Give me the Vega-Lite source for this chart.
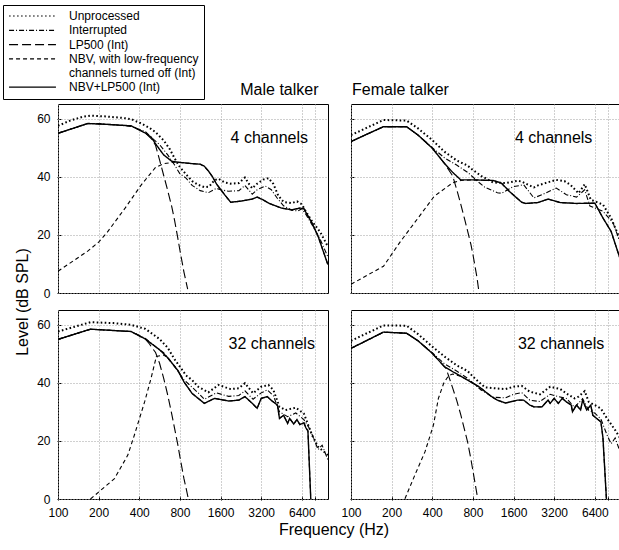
{
"$schema":"https://vega.github.io/schema/vega-lite/v6.json",
"padding":{"left":2,"top":4,"right":2,"bottom":2},
"config":{"font":"Liberation Sans","view":{"stroke":"black","strokeWidth":1},
"axis":{"labelColor":"black","labelFontSize":12,"tickColor":"black","domain":false,"grid":true,"gridColor":"#a0a0a0","gridDash":[1,2],"tickSize":-4,"labelPadding":11,"labelOverlap":false},
"title":{"color":"black","fontWeight":"normal","fontSize":16},
"header":{"titleFontWeight":"normal","titleColor":"black"}},
"datasets":{"d":[
{"talker":"Male","ch":4,"note":"4 channels","hz":3675,"db":53.3},
{"talker":"Female","ch":4,"note":"4 channels","hz":3170,"db":53.3},
{"talker":"Male","ch":32,"note":"32 channels","hz":3830,"db":53.4},
{"talker":"Female","ch":32,"note":"32 channels","hz":3600,"db":53.3},
{"talker":"Male","ch":4,"series":"Unprocessed","hz":100,"db":57.5},{"talker":"Male","ch":4,"series":"Unprocessed","hz":123,"db":59.3},{"talker":"Male","ch":4,"series":"Unprocessed","hz":152,"db":60.6},{"talker":"Male","ch":4,"series":"Unprocessed","hz":174,"db":61.0},{"talker":"Male","ch":4,"series":"Unprocessed","hz":230,"db":60.7},{"talker":"Male","ch":4,"series":"Unprocessed","hz":303,"db":60.2},{"talker":"Male","ch":4,"series":"Unprocessed","hz":348,"db":59.8},{"talker":"Male","ch":4,"series":"Unprocessed","hz":414,"db":58.3},{"talker":"Male","ch":4,"series":"Unprocessed","hz":476,"db":56.8},{"talker":"Male","ch":4,"series":"Unprocessed","hz":528,"db":55.3},{"talker":"Male","ch":4,"series":"Unprocessed","hz":606,"db":52.5},{"talker":"Male","ch":4,"series":"Unprocessed","hz":673,"db":49.5},{"talker":"Male","ch":4,"series":"Unprocessed","hz":731,"db":46.3},{"talker":"Male","ch":4,"series":"Unprocessed","hz":800,"db":43.3},{"talker":"Male","ch":4,"series":"Unprocessed","hz":888,"db":40.8},{"talker":"Male","ch":4,"series":"Unprocessed","hz":985,"db":38.5},{"talker":"Male","ch":4,"series":"Unprocessed","hz":1093,"db":37.2},{"talker":"Male","ch":4,"series":"Unprocessed","hz":1213,"db":36.4},{"talker":"Male","ch":4,"series":"Unprocessed","hz":1318,"db":36.6},{"talker":"Male","ch":4,"series":"Unprocessed","hz":1442,"db":38.8},{"talker":"Male","ch":4,"series":"Unprocessed","hz":1546,"db":39.3},{"talker":"Male","ch":4,"series":"Unprocessed","hz":1715,"db":38.0},{"talker":"Male","ch":4,"series":"Unprocessed","hz":1903,"db":37.6},{"talker":"Male","ch":4,"series":"Unprocessed","hz":2186,"db":37.8},{"talker":"Male","ch":4,"series":"Unprocessed","hz":2425,"db":39.7},{"talker":"Male","ch":4,"series":"Unprocessed","hz":2599,"db":37.5},{"talker":"Male","ch":4,"series":"Unprocessed","hz":2747,"db":36.0},{"talker":"Male","ch":4,"series":"Unprocessed","hz":2986,"db":37.6},{"talker":"Male","ch":4,"series":"Unprocessed","hz":3313,"db":39.0},{"talker":"Male","ch":4,"series":"Unprocessed","hz":3625,"db":39.5},{"talker":"Male","ch":4,"series":"Unprocessed","hz":3940,"db":37.5},{"talker":"Male","ch":4,"series":"Unprocessed","hz":4281,"db":33.5},{"talker":"Male","ch":4,"series":"Unprocessed","hz":4685,"db":31.3},{"talker":"Male","ch":4,"series":"Unprocessed","hz":5382,"db":30.9},{"talker":"Male","ch":4,"series":"Unprocessed","hz":5889,"db":31.5},{"talker":"Male","ch":4,"series":"Unprocessed","hz":6400,"db":30.5},{"talker":"Male","ch":4,"series":"Unprocessed","hz":6860,"db":28.0},{"talker":"Male","ch":4,"series":"Unprocessed","hz":7611,"db":24.7},{"talker":"Male","ch":4,"series":"Unprocessed","hz":8742,"db":21.0},{"talker":"Male","ch":4,"series":"Unprocessed","hz":9973,"db":16.0},
{"talker":"Male","ch":4,"series":"Interrupted","hz":100,"db":55.0},{"talker":"Male","ch":4,"series":"Interrupted","hz":166,"db":58.3},{"talker":"Male","ch":4,"series":"Interrupted","hz":200,"db":58.3},{"talker":"Male","ch":4,"series":"Interrupted","hz":264,"db":57.8},{"talker":"Male","ch":4,"series":"Interrupted","hz":348,"db":57.3},{"talker":"Male","ch":4,"series":"Interrupted","hz":444,"db":55.5},{"talker":"Male","ch":4,"series":"Interrupted","hz":492,"db":53.5},{"talker":"Male","ch":4,"series":"Interrupted","hz":566,"db":51.0},{"talker":"Male","ch":4,"series":"Interrupted","hz":650,"db":47.5},{"talker":"Male","ch":4,"series":"Interrupted","hz":731,"db":44.0},{"talker":"Male","ch":4,"series":"Interrupted","hz":800,"db":41.0},{"talker":"Male","ch":4,"series":"Interrupted","hz":888,"db":39.5},{"talker":"Male","ch":4,"series":"Interrupted","hz":985,"db":37.0},{"talker":"Male","ch":4,"series":"Interrupted","hz":1131,"db":35.2},{"talker":"Male","ch":4,"series":"Interrupted","hz":1300,"db":34.5},{"talker":"Male","ch":4,"series":"Interrupted","hz":1493,"db":36.0},{"talker":"Male","ch":4,"series":"Interrupted","hz":1600,"db":35.5},{"talker":"Male","ch":4,"series":"Interrupted","hz":1838,"db":35.0},{"talker":"Male","ch":4,"series":"Interrupted","hz":2186,"db":35.2},{"talker":"Male","ch":4,"series":"Interrupted","hz":2425,"db":37.0},{"talker":"Male","ch":4,"series":"Interrupted","hz":2747,"db":34.0},{"talker":"Male","ch":4,"series":"Interrupted","hz":2986,"db":35.5},{"talker":"Male","ch":4,"series":"Interrupted","hz":3430,"db":36.8},{"talker":"Male","ch":4,"series":"Interrupted","hz":3805,"db":35.5},{"talker":"Male","ch":4,"series":"Interrupted","hz":4222,"db":32.5},{"talker":"Male","ch":4,"series":"Interrupted","hz":4685,"db":30.0},{"talker":"Male","ch":4,"series":"Interrupted","hz":5382,"db":28.5},{"talker":"Male","ch":4,"series":"Interrupted","hz":5972,"db":28.2},{"talker":"Male","ch":4,"series":"Interrupted","hz":6400,"db":29.0},{"talker":"Male","ch":4,"series":"Interrupted","hz":6860,"db":27.0},{"talker":"Male","ch":4,"series":"Interrupted","hz":7611,"db":23.5},{"talker":"Male","ch":4,"series":"Interrupted","hz":8742,"db":18.5},{"talker":"Male","ch":4,"series":"Interrupted","hz":9973,"db":12.5},
{"talker":"Male","ch":4,"series":"NBV+LP500 (Int)","hz":100,"db":54.9},{"talker":"Male","ch":4,"series":"NBV+LP500 (Int)","hz":123,"db":56.3},{"talker":"Male","ch":4,"series":"NBV+LP500 (Int)","hz":166,"db":58.3},{"talker":"Male","ch":4,"series":"NBV+LP500 (Int)","hz":230,"db":58.0},{"talker":"Male","ch":4,"series":"NBV+LP500 (Int)","hz":348,"db":57.5},{"talker":"Male","ch":4,"series":"NBV+LP500 (Int)","hz":444,"db":55.0},{"talker":"Male","ch":4,"series":"NBV+LP500 (Int)","hz":492,"db":53.5},{"talker":"Male","ch":4,"series":"NBV+LP500 (Int)","hz":528,"db":51.3},{"talker":"Male","ch":4,"series":"NBV+LP500 (Int)","hz":606,"db":47.5},{"talker":"Male","ch":4,"series":"NBV+LP500 (Int)","hz":696,"db":45.3},{"talker":"Male","ch":4,"series":"NBV+LP500 (Int)","hz":800,"db":44.9},{"talker":"Male","ch":4,"series":"NBV+LP500 (Int)","hz":985,"db":44.5},{"talker":"Male","ch":4,"series":"NBV+LP500 (Int)","hz":1131,"db":44.3},{"talker":"Male","ch":4,"series":"NBV+LP500 (Int)","hz":1213,"db":43.6},{"talker":"Male","ch":4,"series":"NBV+LP500 (Int)","hz":1300,"db":42.0},{"talker":"Male","ch":4,"series":"NBV+LP500 (Int)","hz":1393,"db":40.0},{"talker":"Male","ch":4,"series":"NBV+LP500 (Int)","hz":1493,"db":37.5},{"talker":"Male","ch":4,"series":"NBV+LP500 (Int)","hz":1715,"db":33.8},{"talker":"Male","ch":4,"series":"NBV+LP500 (Int)","hz":1903,"db":31.2},{"talker":"Male","ch":4,"series":"NBV+LP500 (Int)","hz":2263,"db":31.6},{"talker":"Male","ch":4,"series":"NBV+LP500 (Int)","hz":2747,"db":32.3},{"talker":"Male","ch":4,"series":"NBV+LP500 (Int)","hz":2986,"db":33.0},{"talker":"Male","ch":4,"series":"NBV+LP500 (Int)","hz":3313,"db":32.0},{"talker":"Male","ch":4,"series":"NBV+LP500 (Int)","hz":3676,"db":30.8},{"talker":"Male","ch":4,"series":"NBV+LP500 (Int)","hz":4525,"db":29.2},{"talker":"Male","ch":4,"series":"NBV+LP500 (Int)","hz":5382,"db":28.6},{"talker":"Male","ch":4,"series":"NBV+LP500 (Int)","hz":6183,"db":29.2},{"talker":"Male","ch":4,"series":"NBV+LP500 (Int)","hz":6626,"db":29.0},{"talker":"Male","ch":4,"series":"NBV+LP500 (Int)","hz":7101,"db":26.5},{"talker":"Male","ch":4,"series":"NBV+LP500 (Int)","hz":7611,"db":24.1},{"talker":"Male","ch":4,"series":"NBV+LP500 (Int)","hz":8445,"db":19.5},{"talker":"Male","ch":4,"series":"NBV+LP500 (Int)","hz":9973,"db":9.8},
{"talker":"Male","ch":4,"series":"LP500 (Int)","hz":100,"db":54.9},{"talker":"Male","ch":4,"series":"LP500 (Int)","hz":123,"db":56.3},{"talker":"Male","ch":4,"series":"LP500 (Int)","hz":166,"db":58.3},{"talker":"Male","ch":4,"series":"LP500 (Int)","hz":230,"db":58.0},{"talker":"Male","ch":4,"series":"LP500 (Int)","hz":348,"db":57.5},{"talker":"Male","ch":4,"series":"LP500 (Int)","hz":444,"db":55.0},{"talker":"Male","ch":4,"series":"LP500 (Int)","hz":492,"db":53.0},{"talker":"Male","ch":4,"series":"LP500 (Int)","hz":528,"db":50.8},{"talker":"Male","ch":4,"series":"LP500 (Int)","hz":566,"db":45.7},{"talker":"Male","ch":4,"series":"LP500 (Int)","hz":606,"db":40.5},{"talker":"Male","ch":4,"series":"LP500 (Int)","hz":650,"db":35.2},{"talker":"Male","ch":4,"series":"LP500 (Int)","hz":696,"db":29.7},{"talker":"Male","ch":4,"series":"LP500 (Int)","hz":731,"db":24.9},{"talker":"Male","ch":4,"series":"LP500 (Int)","hz":773,"db":18.7},{"talker":"Male","ch":4,"series":"LP500 (Int)","hz":800,"db":14.7},{"talker":"Male","ch":4,"series":"LP500 (Int)","hz":857,"db":7.2},{"talker":"Male","ch":4,"series":"LP500 (Int)","hz":888,"db":3.9},{"talker":"Male","ch":4,"series":"LP500 (Int)","hz":913,"db":1.3},
{"talker":"Male","ch":4,"series":"NBV","hz":100,"db":7.5},{"talker":"Male","ch":4,"series":"NBV","hz":166,"db":14.4},{"talker":"Male","ch":4,"series":"NBV","hz":200,"db":17.5},{"talker":"Male","ch":4,"series":"NBV","hz":230,"db":20.7},{"talker":"Male","ch":4,"series":"NBV","hz":314,"db":29.2},{"talker":"Male","ch":4,"series":"NBV","hz":414,"db":37.2},{"talker":"Male","ch":4,"series":"NBV","hz":528,"db":43.2},{"talker":"Male","ch":4,"series":"NBV","hz":606,"db":44.5},{"talker":"Male","ch":4,"series":"NBV","hz":731,"db":45.0},{"talker":"Male","ch":4,"series":"NBV","hz":800,"db":44.9},{"talker":"Male","ch":4,"series":"NBV","hz":985,"db":44.5},{"talker":"Male","ch":4,"series":"NBV","hz":1131,"db":44.3},{"talker":"Male","ch":4,"series":"NBV","hz":1213,"db":43.6},{"talker":"Male","ch":4,"series":"NBV","hz":1300,"db":42.0},{"talker":"Male","ch":4,"series":"NBV","hz":1393,"db":40.0},{"talker":"Male","ch":4,"series":"NBV","hz":1493,"db":37.5},{"talker":"Male","ch":4,"series":"NBV","hz":1715,"db":33.8},{"talker":"Male","ch":4,"series":"NBV","hz":1903,"db":31.2},{"talker":"Male","ch":4,"series":"NBV","hz":2263,"db":31.6},{"talker":"Male","ch":4,"series":"NBV","hz":2747,"db":32.3},{"talker":"Male","ch":4,"series":"NBV","hz":2986,"db":33.0},{"talker":"Male","ch":4,"series":"NBV","hz":3313,"db":32.0},{"talker":"Male","ch":4,"series":"NBV","hz":3676,"db":30.8},{"talker":"Male","ch":4,"series":"NBV","hz":4525,"db":29.2},{"talker":"Male","ch":4,"series":"NBV","hz":5382,"db":28.6},{"talker":"Male","ch":4,"series":"NBV","hz":6183,"db":29.2},{"talker":"Male","ch":4,"series":"NBV","hz":6626,"db":29.0},{"talker":"Male","ch":4,"series":"NBV","hz":7101,"db":26.5},{"talker":"Male","ch":4,"series":"NBV","hz":7611,"db":24.1},{"talker":"Male","ch":4,"series":"NBV","hz":8445,"db":19.5},{"talker":"Male","ch":4,"series":"NBV","hz":9973,"db":9.8},
{"talker":"Female","ch":4,"series":"Unprocessed","hz":100,"db":54.3},{"talker":"Female","ch":4,"series":"Unprocessed","hz":174,"db":59.5},{"talker":"Female","ch":4,"series":"Unprocessed","hz":258,"db":59.3},{"talker":"Female","ch":4,"series":"Unprocessed","hz":314,"db":56.6},{"talker":"Female","ch":4,"series":"Unprocessed","hz":400,"db":52.6},{"talker":"Female","ch":4,"series":"Unprocessed","hz":492,"db":48.6},{"talker":"Female","ch":4,"series":"Unprocessed","hz":606,"db":45.6},{"talker":"Female","ch":4,"series":"Unprocessed","hz":731,"db":43.8},{"talker":"Female","ch":4,"series":"Unprocessed","hz":800,"db":42.3},{"talker":"Female","ch":4,"series":"Unprocessed","hz":919,"db":40.3},{"talker":"Female","ch":4,"series":"Unprocessed","hz":1131,"db":38.0},{"talker":"Female","ch":4,"series":"Unprocessed","hz":1393,"db":37.8},{"talker":"Female","ch":4,"series":"Unprocessed","hz":1715,"db":38.6},{"talker":"Female","ch":4,"series":"Unprocessed","hz":1838,"db":38.3},{"talker":"Female","ch":4,"series":"Unprocessed","hz":2263,"db":36.3},{"talker":"Female","ch":4,"series":"Unprocessed","hz":2425,"db":37.0},{"talker":"Female","ch":4,"series":"Unprocessed","hz":2747,"db":37.8},{"talker":"Female","ch":4,"series":"Unprocessed","hz":3313,"db":38.9},{"talker":"Female","ch":4,"series":"Unprocessed","hz":3805,"db":38.5},{"talker":"Female","ch":4,"series":"Unprocessed","hz":4222,"db":37.2},{"talker":"Female","ch":4,"series":"Unprocessed","hz":4850,"db":34.3},{"talker":"Female","ch":4,"series":"Unprocessed","hz":5382,"db":37.4},{"talker":"Female","ch":4,"series":"Unprocessed","hz":5972,"db":32.1},{"talker":"Female","ch":4,"series":"Unprocessed","hz":7352,"db":30.4},{"talker":"Female","ch":4,"series":"Unprocessed","hz":8445,"db":25.8},{"talker":"Female","ch":4,"series":"Unprocessed","hz":9973,"db":17.8},
{"talker":"Female","ch":4,"series":"NBV+LP500 (Int)","hz":100,"db":52.1},{"talker":"Female","ch":4,"series":"NBV+LP500 (Int)","hz":174,"db":57.2},{"talker":"Female","ch":4,"series":"NBV+LP500 (Int)","hz":258,"db":57.2},{"talker":"Female","ch":4,"series":"NBV+LP500 (Int)","hz":314,"db":54.3},{"talker":"Female","ch":4,"series":"NBV+LP500 (Int)","hz":400,"db":49.8},{"talker":"Female","ch":4,"series":"NBV+LP500 (Int)","hz":492,"db":44.6},{"talker":"Female","ch":4,"series":"NBV+LP500 (Int)","hz":566,"db":41.5},{"talker":"Female","ch":4,"series":"NBV+LP500 (Int)","hz":650,"db":38.9},{"talker":"Female","ch":4,"series":"NBV+LP500 (Int)","hz":800,"db":38.9},{"talker":"Female","ch":4,"series":"NBV+LP500 (Int)","hz":1131,"db":38.7},{"talker":"Female","ch":4,"series":"NBV+LP500 (Int)","hz":1300,"db":37.8},{"talker":"Female","ch":4,"series":"NBV+LP500 (Int)","hz":1493,"db":34.9},{"talker":"Female","ch":4,"series":"NBV+LP500 (Int)","hz":1838,"db":31.2},{"talker":"Female","ch":4,"series":"NBV+LP500 (Int)","hz":1970,"db":30.8},{"talker":"Female","ch":4,"series":"NBV+LP500 (Int)","hz":2425,"db":31.1},{"talker":"Female","ch":4,"series":"NBV+LP500 (Int)","hz":2884,"db":32.3},{"talker":"Female","ch":4,"series":"NBV+LP500 (Int)","hz":3551,"db":31.1},{"talker":"Female","ch":4,"series":"NBV+LP500 (Int)","hz":4685,"db":30.8},{"talker":"Female","ch":4,"series":"NBV+LP500 (Int)","hz":6400,"db":30.9},{"talker":"Female","ch":4,"series":"NBV+LP500 (Int)","hz":7352,"db":25.8},{"talker":"Female","ch":4,"series":"NBV+LP500 (Int)","hz":8445,"db":21.2},{"talker":"Female","ch":4,"series":"NBV+LP500 (Int)","hz":9973,"db":11.0},
{"talker":"Female","ch":4,"series":"Interrupted","hz":100,"db":52.1},{"talker":"Female","ch":4,"series":"Interrupted","hz":174,"db":57.2},{"talker":"Female","ch":4,"series":"Interrupted","hz":258,"db":57.2},{"talker":"Female","ch":4,"series":"Interrupted","hz":314,"db":54.3},{"talker":"Female","ch":4,"series":"Interrupted","hz":400,"db":50.0},{"talker":"Female","ch":4,"series":"Interrupted","hz":492,"db":46.5},{"talker":"Female","ch":4,"series":"Interrupted","hz":606,"db":44.0},{"talker":"Female","ch":4,"series":"Interrupted","hz":731,"db":41.5},{"talker":"Female","ch":4,"series":"Interrupted","hz":888,"db":38.0},{"talker":"Female","ch":4,"series":"Interrupted","hz":985,"db":36.3},{"talker":"Female","ch":4,"series":"Interrupted","hz":1213,"db":34.5},{"talker":"Female","ch":4,"series":"Interrupted","hz":1300,"db":34.3},{"talker":"Female","ch":4,"series":"Interrupted","hz":1600,"db":36.6},{"talker":"Female","ch":4,"series":"Interrupted","hz":1903,"db":37.2},{"talker":"Female","ch":4,"series":"Interrupted","hz":2263,"db":32.7},{"talker":"Female","ch":4,"series":"Interrupted","hz":2599,"db":33.8},{"talker":"Female","ch":4,"series":"Interrupted","hz":3313,"db":36.1},{"talker":"Female","ch":4,"series":"Interrupted","hz":3940,"db":33.8},{"talker":"Female","ch":4,"series":"Interrupted","hz":4685,"db":33.0},{"talker":"Female","ch":4,"series":"Interrupted","hz":5382,"db":35.5},{"talker":"Female","ch":4,"series":"Interrupted","hz":5889,"db":29.9},{"talker":"Female","ch":4,"series":"Interrupted","hz":7352,"db":28.1},{"talker":"Female","ch":4,"series":"Interrupted","hz":8742,"db":24.1},{"talker":"Female","ch":4,"series":"Interrupted","hz":9973,"db":16.7},
{"talker":"Female","ch":4,"series":"LP500 (Int)","hz":100,"db":52.1},{"talker":"Female","ch":4,"series":"LP500 (Int)","hz":174,"db":57.2},{"talker":"Female","ch":4,"series":"LP500 (Int)","hz":258,"db":57.2},{"talker":"Female","ch":4,"series":"LP500 (Int)","hz":314,"db":54.3},{"talker":"Female","ch":4,"series":"LP500 (Int)","hz":400,"db":49.8},{"talker":"Female","ch":4,"series":"LP500 (Int)","hz":492,"db":44.6},{"talker":"Female","ch":4,"series":"LP500 (Int)","hz":566,"db":40.3},{"talker":"Female","ch":4,"series":"LP500 (Int)","hz":606,"db":35.7},{"talker":"Female","ch":4,"series":"LP500 (Int)","hz":650,"db":30.6},{"talker":"Female","ch":4,"series":"LP500 (Int)","hz":696,"db":25.2},{"talker":"Female","ch":4,"series":"LP500 (Int)","hz":731,"db":21.3},{"talker":"Female","ch":4,"series":"LP500 (Int)","hz":773,"db":16.7},{"talker":"Female","ch":4,"series":"LP500 (Int)","hz":800,"db":13.3},{"talker":"Female","ch":4,"series":"LP500 (Int)","hz":857,"db":5.4},{"talker":"Female","ch":4,"series":"LP500 (Int)","hz":888,"db":0.1},
{"talker":"Female","ch":4,"series":"NBV","hz":100,"db":3.0},{"talker":"Female","ch":4,"series":"NBV","hz":174,"db":9.2},{"talker":"Female","ch":4,"series":"NBV","hz":230,"db":17.4},{"talker":"Female","ch":4,"series":"NBV","hz":314,"db":25.8},{"talker":"Female","ch":4,"series":"NBV","hz":414,"db":33.3},{"talker":"Female","ch":4,"series":"NBV","hz":566,"db":37.9},{"talker":"Female","ch":4,"series":"NBV","hz":650,"db":38.7},{"talker":"Female","ch":4,"series":"NBV","hz":800,"db":38.9},{"talker":"Female","ch":4,"series":"NBV","hz":1131,"db":38.7},{"talker":"Female","ch":4,"series":"NBV","hz":1300,"db":37.8},{"talker":"Female","ch":4,"series":"NBV","hz":1493,"db":34.9},{"talker":"Female","ch":4,"series":"NBV","hz":1838,"db":31.2},{"talker":"Female","ch":4,"series":"NBV","hz":1970,"db":30.8},{"talker":"Female","ch":4,"series":"NBV","hz":2425,"db":31.1},{"talker":"Female","ch":4,"series":"NBV","hz":2884,"db":32.3},{"talker":"Female","ch":4,"series":"NBV","hz":3551,"db":31.1},{"talker":"Female","ch":4,"series":"NBV","hz":4685,"db":30.8},{"talker":"Female","ch":4,"series":"NBV","hz":6400,"db":30.9},{"talker":"Female","ch":4,"series":"NBV","hz":7352,"db":25.8},{"talker":"Female","ch":4,"series":"NBV","hz":8445,"db":21.2},{"talker":"Female","ch":4,"series":"NBV","hz":9973,"db":11.0},
{"talker":"Male","ch":32,"series":"Unprocessed","hz":100,"db":57.6},{"talker":"Male","ch":32,"series":"Unprocessed","hz":174,"db":60.8},{"talker":"Male","ch":32,"series":"Unprocessed","hz":258,"db":60.5},{"talker":"Male","ch":32,"series":"Unprocessed","hz":348,"db":59.9},{"talker":"Male","ch":32,"series":"Unprocessed","hz":444,"db":58.5},{"talker":"Male","ch":32,"series":"Unprocessed","hz":566,"db":55.0},{"talker":"Male","ch":32,"series":"Unprocessed","hz":650,"db":52.0},{"talker":"Male","ch":32,"series":"Unprocessed","hz":731,"db":48.0},{"talker":"Male","ch":32,"series":"Unprocessed","hz":800,"db":45.5},{"talker":"Male","ch":32,"series":"Unprocessed","hz":888,"db":42.5},{"talker":"Male","ch":32,"series":"Unprocessed","hz":985,"db":40.9},{"talker":"Male","ch":32,"series":"Unprocessed","hz":1093,"db":38.6},{"talker":"Male","ch":32,"series":"Unprocessed","hz":1300,"db":36.7},{"talker":"Male","ch":32,"series":"Unprocessed","hz":1546,"db":39.2},{"talker":"Male","ch":32,"series":"Unprocessed","hz":1903,"db":37.8},{"talker":"Male","ch":32,"series":"Unprocessed","hz":2186,"db":38.1},{"talker":"Male","ch":32,"series":"Unprocessed","hz":2425,"db":39.8},{"talker":"Male","ch":32,"series":"Unprocessed","hz":2786,"db":36.4},{"talker":"Male","ch":32,"series":"Unprocessed","hz":3200,"db":38.6},{"talker":"Male","ch":32,"series":"Unprocessed","hz":3625,"db":39.2},{"talker":"Male","ch":32,"series":"Unprocessed","hz":3940,"db":37.5},{"talker":"Male","ch":32,"series":"Unprocessed","hz":4371,"db":31.7},{"talker":"Male","ch":32,"series":"Unprocessed","hz":4850,"db":30.6},{"talker":"Male","ch":32,"series":"Unprocessed","hz":5768,"db":31.4},{"talker":"Male","ch":32,"series":"Unprocessed","hz":6626,"db":29.4},{"talker":"Male","ch":32,"series":"Unprocessed","hz":7611,"db":22.0},{"talker":"Male","ch":32,"series":"Unprocessed","hz":8445,"db":18.0},{"talker":"Male","ch":32,"series":"Unprocessed","hz":9973,"db":15.1},
{"talker":"Male","ch":32,"series":"NBV+LP500 (Int)","hz":100,"db":54.9},{"talker":"Male","ch":32,"series":"NBV+LP500 (Int)","hz":174,"db":58.4},{"talker":"Male","ch":32,"series":"NBV+LP500 (Int)","hz":348,"db":57.6},{"talker":"Male","ch":32,"series":"NBV+LP500 (Int)","hz":444,"db":55.0},{"talker":"Male","ch":32,"series":"NBV+LP500 (Int)","hz":566,"db":51.3},{"talker":"Male","ch":32,"series":"NBV+LP500 (Int)","hz":650,"db":48.6},{"talker":"Male","ch":32,"series":"NBV+LP500 (Int)","hz":773,"db":44.2},{"talker":"Male","ch":32,"series":"NBV+LP500 (Int)","hz":857,"db":40.3},{"talker":"Male","ch":32,"series":"NBV+LP500 (Int)","hz":985,"db":36.3},{"talker":"Male","ch":32,"series":"NBV+LP500 (Int)","hz":1213,"db":32.9},{"talker":"Male","ch":32,"series":"NBV+LP500 (Int)","hz":1442,"db":34.6},{"talker":"Male","ch":32,"series":"NBV+LP500 (Int)","hz":1838,"db":33.7},{"talker":"Male","ch":32,"series":"NBV+LP500 (Int)","hz":2186,"db":34.0},{"talker":"Male","ch":32,"series":"NBV+LP500 (Int)","hz":2425,"db":35.2},{"talker":"Male","ch":32,"series":"NBV+LP500 (Int)","hz":2747,"db":32.9},{"talker":"Male","ch":32,"series":"NBV+LP500 (Int)","hz":2986,"db":31.2},{"talker":"Male","ch":32,"series":"NBV+LP500 (Int)","hz":3200,"db":34.6},{"talker":"Male","ch":32,"series":"NBV+LP500 (Int)","hz":3551,"db":35.2},{"talker":"Male","ch":32,"series":"NBV+LP500 (Int)","hz":3805,"db":33.9},{"talker":"Male","ch":32,"series":"NBV+LP500 (Int)","hz":4222,"db":32.3},{"talker":"Male","ch":32,"series":"NBV+LP500 (Int)","hz":4371,"db":27.7},{"talker":"Male","ch":32,"series":"NBV+LP500 (Int)","hz":4685,"db":28.8},{"talker":"Male","ch":32,"series":"NBV+LP500 (Int)","hz":5021,"db":26.0},{"talker":"Male","ch":32,"series":"NBV+LP500 (Int)","hz":5198,"db":27.7},{"talker":"Male","ch":32,"series":"NBV+LP500 (Int)","hz":5572,"db":25.8},{"talker":"Male","ch":32,"series":"NBV+LP500 (Int)","hz":5889,"db":27.3},{"talker":"Male","ch":32,"series":"NBV+LP500 (Int)","hz":6183,"db":25.6},{"talker":"Male","ch":32,"series":"NBV+LP500 (Int)","hz":6626,"db":26.2},{"talker":"Male","ch":32,"series":"NBV+LP500 (Int)","hz":6860,"db":24.5},{"talker":"Male","ch":32,"series":"NBV+LP500 (Int)","hz":7101,"db":23.4},{"talker":"Male","ch":32,"series":"NBV+LP500 (Int)","hz":7454,"db":0},
{"talker":"Male","ch":32,"series":"Interrupted","hz":100,"db":54.9},{"talker":"Male","ch":32,"series":"Interrupted","hz":174,"db":58.4},{"talker":"Male","ch":32,"series":"Interrupted","hz":348,"db":57.6},{"talker":"Male","ch":32,"series":"Interrupted","hz":444,"db":55.2},{"talker":"Male","ch":32,"series":"Interrupted","hz":492,"db":53.5},{"talker":"Male","ch":32,"series":"Interrupted","hz":606,"db":50.3},{"talker":"Male","ch":32,"series":"Interrupted","hz":731,"db":45.5},{"talker":"Male","ch":32,"series":"Interrupted","hz":857,"db":41.0},{"talker":"Male","ch":32,"series":"Interrupted","hz":1093,"db":36.5},{"talker":"Male","ch":32,"series":"Interrupted","hz":1213,"db":34.3},{"talker":"Male","ch":32,"series":"Interrupted","hz":1493,"db":36.5},{"talker":"Male","ch":32,"series":"Interrupted","hz":1838,"db":35.3},{"talker":"Male","ch":32,"series":"Interrupted","hz":2186,"db":35.6},{"talker":"Male","ch":32,"series":"Interrupted","hz":2425,"db":37.2},{"talker":"Male","ch":32,"series":"Interrupted","hz":2786,"db":34.3},{"talker":"Male","ch":32,"series":"Interrupted","hz":3200,"db":36.5},{"talker":"Male","ch":32,"series":"Interrupted","hz":3551,"db":37.5},{"talker":"Male","ch":32,"series":"Interrupted","hz":3940,"db":35.5},{"talker":"Male","ch":32,"series":"Interrupted","hz":4371,"db":30.0},{"talker":"Male","ch":32,"series":"Interrupted","hz":5021,"db":28.3},{"talker":"Male","ch":32,"series":"Interrupted","hz":5768,"db":29.6},{"talker":"Male","ch":32,"series":"Interrupted","hz":6626,"db":27.3},{"talker":"Male","ch":32,"series":"Interrupted","hz":7352,"db":24.0},{"talker":"Male","ch":32,"series":"Interrupted","hz":7879,"db":20.5},{"talker":"Male","ch":32,"series":"Interrupted","hz":8445,"db":17.0},{"talker":"Male","ch":32,"series":"Interrupted","hz":9051,"db":18.5},{"talker":"Male","ch":32,"series":"Interrupted","hz":9973,"db":13.5},
{"talker":"Male","ch":32,"series":"LP500 (Int)","hz":100,"db":54.9},{"talker":"Male","ch":32,"series":"LP500 (Int)","hz":174,"db":58.4},{"talker":"Male","ch":32,"series":"LP500 (Int)","hz":348,"db":57.6},{"talker":"Male","ch":32,"series":"LP500 (Int)","hz":444,"db":55.0},{"talker":"Male","ch":32,"series":"LP500 (Int)","hz":476,"db":53.3},{"talker":"Male","ch":32,"series":"LP500 (Int)","hz":492,"db":52.3},{"talker":"Male","ch":32,"series":"LP500 (Int)","hz":528,"db":50.4},{"talker":"Male","ch":32,"series":"LP500 (Int)","hz":566,"db":46.6},{"talker":"Male","ch":32,"series":"LP500 (Int)","hz":606,"db":41.6},{"talker":"Male","ch":32,"series":"LP500 (Int)","hz":650,"db":35.7},{"talker":"Male","ch":32,"series":"LP500 (Int)","hz":696,"db":29.2},{"talker":"Male","ch":32,"series":"LP500 (Int)","hz":731,"db":24.2},{"talker":"Male","ch":32,"series":"LP500 (Int)","hz":773,"db":18.5},{"talker":"Male","ch":32,"series":"LP500 (Int)","hz":800,"db":14.5},{"talker":"Male","ch":32,"series":"LP500 (Int)","hz":857,"db":7.0},{"talker":"Male","ch":32,"series":"LP500 (Int)","hz":888,"db":3.8},{"talker":"Male","ch":32,"series":"LP500 (Int)","hz":919,"db":0.5},
{"talker":"Male","ch":32,"series":"NBV","hz":174,"db":0.0},{"talker":"Male","ch":32,"series":"NBV","hz":262,"db":7.0},{"talker":"Male","ch":32,"series":"NBV","hz":329,"db":15.1},{"talker":"Male","ch":32,"series":"NBV","hz":368,"db":22.0},{"talker":"Male","ch":32,"series":"NBV","hz":438,"db":33.4},{"talker":"Male","ch":32,"series":"NBV","hz":489,"db":41.5},{"talker":"Male","ch":32,"series":"NBV","hz":535,"db":49.0},{"talker":"Male","ch":32,"series":"NBV","hz":606,"db":49.5},{"talker":"Male","ch":32,"series":"NBV","hz":650,"db":48.6},{"talker":"Male","ch":32,"series":"NBV","hz":773,"db":44.2},{"talker":"Male","ch":32,"series":"NBV","hz":857,"db":40.3},{"talker":"Male","ch":32,"series":"NBV","hz":985,"db":36.3},{"talker":"Male","ch":32,"series":"NBV","hz":1213,"db":32.9},{"talker":"Male","ch":32,"series":"NBV","hz":1442,"db":34.6},{"talker":"Male","ch":32,"series":"NBV","hz":1838,"db":33.7},{"talker":"Male","ch":32,"series":"NBV","hz":2186,"db":34.0},{"talker":"Male","ch":32,"series":"NBV","hz":2425,"db":35.2},{"talker":"Male","ch":32,"series":"NBV","hz":2747,"db":32.9},{"talker":"Male","ch":32,"series":"NBV","hz":2986,"db":31.2},{"talker":"Male","ch":32,"series":"NBV","hz":3200,"db":34.6},{"talker":"Male","ch":32,"series":"NBV","hz":3551,"db":35.2},{"talker":"Male","ch":32,"series":"NBV","hz":3805,"db":33.9},{"talker":"Male","ch":32,"series":"NBV","hz":4222,"db":32.3},{"talker":"Male","ch":32,"series":"NBV","hz":4371,"db":27.7},{"talker":"Male","ch":32,"series":"NBV","hz":4685,"db":28.8},{"talker":"Male","ch":32,"series":"NBV","hz":5021,"db":26.0},{"talker":"Male","ch":32,"series":"NBV","hz":5198,"db":27.7},{"talker":"Male","ch":32,"series":"NBV","hz":5572,"db":25.8},{"talker":"Male","ch":32,"series":"NBV","hz":5889,"db":27.3},{"talker":"Male","ch":32,"series":"NBV","hz":6183,"db":25.6},{"talker":"Male","ch":32,"series":"NBV","hz":6626,"db":26.2},{"talker":"Male","ch":32,"series":"NBV","hz":6860,"db":24.5},{"talker":"Male","ch":32,"series":"NBV","hz":7101,"db":23.4},{"talker":"Male","ch":32,"series":"NBV","hz":7454,"db":0},
{"talker":"Female","ch":32,"series":"Unprocessed","hz":100,"db":54.4},{"talker":"Female","ch":32,"series":"Unprocessed","hz":174,"db":59.7},{"talker":"Female","ch":32,"series":"Unprocessed","hz":258,"db":59.6},{"talker":"Female","ch":32,"series":"Unprocessed","hz":314,"db":56.7},{"talker":"Female","ch":32,"series":"Unprocessed","hz":400,"db":52.4},{"talker":"Female","ch":32,"series":"Unprocessed","hz":492,"db":49.0},{"talker":"Female","ch":32,"series":"Unprocessed","hz":606,"db":46.0},{"talker":"Female","ch":32,"series":"Unprocessed","hz":731,"db":44.0},{"talker":"Female","ch":32,"series":"Unprocessed","hz":800,"db":42.1},{"talker":"Female","ch":32,"series":"Unprocessed","hz":919,"db":39.5},{"talker":"Female","ch":32,"series":"Unprocessed","hz":985,"db":38.4},{"talker":"Female","ch":32,"series":"Unprocessed","hz":1213,"db":38.0},{"talker":"Female","ch":32,"series":"Unprocessed","hz":1393,"db":37.8},{"talker":"Female","ch":32,"series":"Unprocessed","hz":1600,"db":38.6},{"talker":"Female","ch":32,"series":"Unprocessed","hz":1838,"db":38.9},{"talker":"Female","ch":32,"series":"Unprocessed","hz":2111,"db":36.9},{"talker":"Female","ch":32,"series":"Unprocessed","hz":2510,"db":36.0},{"talker":"Female","ch":32,"series":"Unprocessed","hz":2986,"db":38.6},{"talker":"Female","ch":32,"series":"Unprocessed","hz":3551,"db":37.8},{"talker":"Female","ch":32,"series":"Unprocessed","hz":3940,"db":36.3},{"talker":"Female","ch":32,"series":"Unprocessed","hz":4525,"db":34.6},{"talker":"Female","ch":32,"series":"Unprocessed","hz":4850,"db":35.2},{"talker":"Female","ch":32,"series":"Unprocessed","hz":5382,"db":37.1},{"talker":"Female","ch":32,"series":"Unprocessed","hz":5768,"db":33.4},{"talker":"Female","ch":32,"series":"Unprocessed","hz":6400,"db":32.3},{"talker":"Female","ch":32,"series":"Unprocessed","hz":7101,"db":31.1},{"talker":"Female","ch":32,"series":"Unprocessed","hz":7879,"db":27.7},{"talker":"Female","ch":32,"series":"Unprocessed","hz":9051,"db":23.7},{"talker":"Female","ch":32,"series":"Unprocessed","hz":9973,"db":20.5},
{"talker":"Female","ch":32,"series":"NBV+LP500 (Int)","hz":100,"db":51.8},{"talker":"Female","ch":32,"series":"NBV+LP500 (Int)","hz":174,"db":57.4},{"talker":"Female","ch":32,"series":"NBV+LP500 (Int)","hz":258,"db":57.0},{"talker":"Female","ch":32,"series":"NBV+LP500 (Int)","hz":314,"db":54.4},{"talker":"Female","ch":32,"series":"NBV+LP500 (Int)","hz":400,"db":50.1},{"talker":"Female","ch":32,"series":"NBV+LP500 (Int)","hz":492,"db":45.5},{"talker":"Female","ch":32,"series":"NBV+LP500 (Int)","hz":566,"db":43.8},{"talker":"Female","ch":32,"series":"NBV+LP500 (Int)","hz":731,"db":40.9},{"talker":"Female","ch":32,"series":"NBV+LP500 (Int)","hz":888,"db":38.6},{"talker":"Female","ch":32,"series":"NBV+LP500 (Int)","hz":1093,"db":35.3},{"talker":"Female","ch":32,"series":"NBV+LP500 (Int)","hz":1213,"db":34.0},{"talker":"Female","ch":32,"series":"NBV+LP500 (Int)","hz":1393,"db":33.0},{"talker":"Female","ch":32,"series":"NBV+LP500 (Int)","hz":1715,"db":34.0},{"talker":"Female","ch":32,"series":"NBV+LP500 (Int)","hz":1903,"db":34.0},{"talker":"Female","ch":32,"series":"NBV+LP500 (Int)","hz":2111,"db":32.3},{"talker":"Female","ch":32,"series":"NBV+LP500 (Int)","hz":2263,"db":31.7},{"talker":"Female","ch":32,"series":"NBV+LP500 (Int)","hz":2599,"db":31.7},{"talker":"Female","ch":32,"series":"NBV+LP500 (Int)","hz":2884,"db":34.0},{"talker":"Female","ch":32,"series":"NBV+LP500 (Int)","hz":2986,"db":32.9},{"talker":"Female","ch":32,"series":"NBV+LP500 (Int)","hz":3200,"db":34.6},{"talker":"Female","ch":32,"series":"NBV+LP500 (Int)","hz":3430,"db":32.9},{"talker":"Female","ch":32,"series":"NBV+LP500 (Int)","hz":3676,"db":34.6},{"talker":"Female","ch":32,"series":"NBV+LP500 (Int)","hz":3940,"db":33.4},{"talker":"Female","ch":32,"series":"NBV+LP500 (Int)","hz":4281,"db":32.3},{"talker":"Female","ch":32,"series":"NBV+LP500 (Int)","hz":4371,"db":30.0},{"talker":"Female","ch":32,"series":"NBV+LP500 (Int)","hz":4685,"db":32.3},{"talker":"Female","ch":32,"series":"NBV+LP500 (Int)","hz":5021,"db":30.6},{"talker":"Female","ch":32,"series":"NBV+LP500 (Int)","hz":5198,"db":34.0},{"talker":"Female","ch":32,"series":"NBV+LP500 (Int)","hz":5572,"db":30.6},{"talker":"Female","ch":32,"series":"NBV+LP500 (Int)","hz":5972,"db":32.3},{"talker":"Female","ch":32,"series":"NBV+LP500 (Int)","hz":6183,"db":28.8},{"talker":"Female","ch":32,"series":"NBV+LP500 (Int)","hz":7101,"db":26.5},{"talker":"Female","ch":32,"series":"NBV+LP500 (Int)","hz":7352,"db":21.0},{"talker":"Female","ch":32,"series":"NBV+LP500 (Int)","hz":7800,"db":0},
{"talker":"Female","ch":32,"series":"Interrupted","hz":100,"db":51.8},{"talker":"Female","ch":32,"series":"Interrupted","hz":174,"db":57.4},{"talker":"Female","ch":32,"series":"Interrupted","hz":258,"db":57.0},{"talker":"Female","ch":32,"series":"Interrupted","hz":314,"db":54.4},{"talker":"Female","ch":32,"series":"Interrupted","hz":400,"db":50.3},{"talker":"Female","ch":32,"series":"Interrupted","hz":492,"db":46.5},{"talker":"Female","ch":32,"series":"Interrupted","hz":606,"db":44.0},{"talker":"Female","ch":32,"series":"Interrupted","hz":731,"db":41.5},{"talker":"Female","ch":32,"series":"Interrupted","hz":919,"db":37.5},{"talker":"Female","ch":32,"series":"Interrupted","hz":1131,"db":35.0},{"talker":"Female","ch":32,"series":"Interrupted","hz":1393,"db":34.8},{"talker":"Female","ch":32,"series":"Interrupted","hz":1600,"db":36.0},{"talker":"Female","ch":32,"series":"Interrupted","hz":1838,"db":36.6},{"talker":"Female","ch":32,"series":"Interrupted","hz":2111,"db":34.0},{"talker":"Female","ch":32,"series":"Interrupted","hz":2510,"db":33.5},{"talker":"Female","ch":32,"series":"Interrupted","hz":2986,"db":36.0},{"talker":"Female","ch":32,"series":"Interrupted","hz":3430,"db":35.2},{"talker":"Female","ch":32,"series":"Interrupted","hz":3940,"db":34.6},{"talker":"Female","ch":32,"series":"Interrupted","hz":4525,"db":31.5},{"talker":"Female","ch":32,"series":"Interrupted","hz":5198,"db":34.5},{"talker":"Female","ch":32,"series":"Interrupted","hz":5768,"db":30.5},{"talker":"Female","ch":32,"series":"Interrupted","hz":6400,"db":29.5},{"talker":"Female","ch":32,"series":"Interrupted","hz":7101,"db":27.5},{"talker":"Female","ch":32,"series":"Interrupted","hz":7879,"db":22.0},{"talker":"Female","ch":32,"series":"Interrupted","hz":8445,"db":19.0},{"talker":"Female","ch":32,"series":"Interrupted","hz":9051,"db":21.0},{"talker":"Female","ch":32,"series":"Interrupted","hz":9973,"db":15.5},
{"talker":"Female","ch":32,"series":"LP500 (Int)","hz":100,"db":51.8},{"talker":"Female","ch":32,"series":"LP500 (Int)","hz":174,"db":57.4},{"talker":"Female","ch":32,"series":"LP500 (Int)","hz":258,"db":57.0},{"talker":"Female","ch":32,"series":"LP500 (Int)","hz":314,"db":54.4},{"talker":"Female","ch":32,"series":"LP500 (Int)","hz":400,"db":50.1},{"talker":"Female","ch":32,"series":"LP500 (Int)","hz":492,"db":45.5},{"talker":"Female","ch":32,"series":"LP500 (Int)","hz":506,"db":44.9},{"talker":"Female","ch":32,"series":"LP500 (Int)","hz":528,"db":42.4},{"talker":"Female","ch":32,"series":"LP500 (Int)","hz":566,"db":38.2},{"talker":"Female","ch":32,"series":"LP500 (Int)","hz":606,"db":34.0},{"talker":"Female","ch":32,"series":"LP500 (Int)","hz":650,"db":29.0},{"talker":"Female","ch":32,"series":"LP500 (Int)","hz":696,"db":23.5},{"talker":"Female","ch":32,"series":"LP500 (Int)","hz":731,"db":19.6},{"talker":"Female","ch":32,"series":"LP500 (Int)","hz":773,"db":13.7},{"talker":"Female","ch":32,"series":"LP500 (Int)","hz":800,"db":9.7},{"talker":"Female","ch":32,"series":"LP500 (Int)","hz":857,"db":1.7},{"talker":"Female","ch":32,"series":"LP500 (Int)","hz":869,"db":0.1},
{"talker":"Female","ch":32,"series":"NBV","hz":251,"db":0.1},{"talker":"Female","ch":32,"series":"NBV","hz":297,"db":8.2},{"talker":"Female","ch":32,"series":"NBV","hz":353,"db":16.2},{"talker":"Female","ch":32,"series":"NBV","hz":408,"db":25.4},{"talker":"Female","ch":32,"series":"NBV","hz":444,"db":34.6},{"talker":"Female","ch":32,"series":"NBV","hz":486,"db":39.8},{"talker":"Female","ch":32,"series":"NBV","hz":528,"db":42.4},{"talker":"Female","ch":32,"series":"NBV","hz":566,"db":43.0},{"talker":"Female","ch":32,"series":"NBV","hz":650,"db":42.2},{"talker":"Female","ch":32,"series":"NBV","hz":731,"db":40.9},{"talker":"Female","ch":32,"series":"NBV","hz":888,"db":38.6},{"talker":"Female","ch":32,"series":"NBV","hz":1093,"db":35.3},{"talker":"Female","ch":32,"series":"NBV","hz":1213,"db":34.0},{"talker":"Female","ch":32,"series":"NBV","hz":1393,"db":33.0},{"talker":"Female","ch":32,"series":"NBV","hz":1715,"db":34.0},{"talker":"Female","ch":32,"series":"NBV","hz":1903,"db":34.0},{"talker":"Female","ch":32,"series":"NBV","hz":2111,"db":32.3},{"talker":"Female","ch":32,"series":"NBV","hz":2263,"db":31.7},{"talker":"Female","ch":32,"series":"NBV","hz":2599,"db":31.7},{"talker":"Female","ch":32,"series":"NBV","hz":2884,"db":34.0},{"talker":"Female","ch":32,"series":"NBV","hz":2986,"db":32.9},{"talker":"Female","ch":32,"series":"NBV","hz":3200,"db":34.6},{"talker":"Female","ch":32,"series":"NBV","hz":3430,"db":32.9},{"talker":"Female","ch":32,"series":"NBV","hz":3676,"db":34.6},{"talker":"Female","ch":32,"series":"NBV","hz":3940,"db":33.4},{"talker":"Female","ch":32,"series":"NBV","hz":4281,"db":32.3},{"talker":"Female","ch":32,"series":"NBV","hz":4371,"db":30.0},{"talker":"Female","ch":32,"series":"NBV","hz":4685,"db":32.3},{"talker":"Female","ch":32,"series":"NBV","hz":5021,"db":30.6},{"talker":"Female","ch":32,"series":"NBV","hz":5198,"db":34.0},{"talker":"Female","ch":32,"series":"NBV","hz":5572,"db":30.6},{"talker":"Female","ch":32,"series":"NBV","hz":5972,"db":32.3},{"talker":"Female","ch":32,"series":"NBV","hz":6183,"db":28.8},{"talker":"Female","ch":32,"series":"NBV","hz":7101,"db":26.5},{"talker":"Female","ch":32,"series":"NBV","hz":7352,"db":21.0},{"talker":"Female","ch":32,"series":"NBV","hz":7800,"db":0}
]},
"data":{"name":"d"},
"title":{"text":"Frequency (Hz)","orient":"bottom","anchor":"middle","dx":22,"offset":4},
"spacing":11,
"resolve":{"scale":{"strokeDash":"shared"},"legend":{"strokeDash":"shared"}},
"hconcat":[
{"transform":[{"filter":"datum.talker == 'Male'"}],
 "title":{"text":"Male talker","anchor":"end","dx":-10,"offset":6},
 "facet":{"row":{"field":"ch","type":"ordinal","title":"Level (dB SPL)","header":{"labels":false,"titleFontSize":16,"titlePadding":-5}}},
 "spacing":15,
 "spec":{"width":270,"height":189,"layer":[
  {"transform":[{"filter":"isValid(datum.series)"}],
   "mark":{"type":"line","color":"black","clip":true},
   "encoding":{
    "x":{"field":"hz","type":"quantitative","scale":{"type":"log","domain":[100,10000],"nice":false},"axis":{"title":null,"values":[100,200,400,800,1600,3200,6400,8000],"format":"d","labelExpr":"datum.value == 8000 ? '' : datum.label","labelFlush":false}},
    "y":{"field":"db","type":"quantitative","scale":{"domain":[0,65],"nice":false},"axis":{"title":null,"values":[0,10,20,30,40,50,60]}},
    "strokeDash":{"field":"series","type":"nominal","scale":{"domain":["Unprocessed","Interrupted","LP500 (Int)","NBV","NBV+LP500 (Int)"],"range":[[1.6,2.4],[5,2,1,2],[9,4],[4,3],[1,0]]},
     "legend":{"orient":"none","legendX":-55,"legendY":-99,"title":null,"symbolType":"stroke","symbolSize":2200,"symbolStrokeWidth":1.2,"symbolStrokeColor":"black","labelFontSize":12,"labelOffset":12,"clipHeight":12,"rowPadding":2.3,"padding":5,"strokeColor":"black","fillColor":"white","labelLimit":250,"labelColor":"black","labelExpr":"datum.label == 'NBV' ? ['NBV, with low-frequency', 'channels turned off (Int)'] : datum.label"}},
    "strokeWidth":{"condition":[{"test":"datum.series == 'Unprocessed'","value":2},{"test":"datum.series == 'NBV+LP500 (Int)'","value":1.4}],"value":1.1}
   }},
  {"transform":[{"filter":"isValid(datum.note)"}],
   "mark":{"type":"text","fontSize":16,"align":"center","baseline":"middle","color":"black"},
   "encoding":{"x":{"field":"hz","type":"quantitative"},"y":{"field":"db","type":"quantitative"},"text":{"field":"note"}}}
 ]}},
{"transform":[{"filter":"datum.talker == 'Female'"}],
 "title":{"text":"Female talker","anchor":"start","dx":11,"offset":6},
 "facet":{"row":{"field":"ch","type":"ordinal","title":null,"header":{"labels":false}}},
 "spacing":15,
 "spec":{"width":270,"height":189,"layer":[
  {"transform":[{"filter":"isValid(datum.series)"}],
   "mark":{"type":"line","color":"black","clip":true},
   "encoding":{
    "x":{"field":"hz","type":"quantitative","scale":{"type":"log","domain":[100,10000],"nice":false},"axis":{"title":null,"values":[100,200,400,800,1600,3200,6400,8000],"format":"d","labelExpr":"datum.value == 8000 ? '' : datum.label","labelFlush":false}},
    "y":{"field":"db","type":"quantitative","scale":{"domain":[0,65],"nice":false},"axis":{"title":null,"labels":false,"values":[0,10,20,30,40,50,60]}},
    "strokeDash":{"field":"series","type":"nominal","scale":{"domain":["Unprocessed","Interrupted","LP500 (Int)","NBV","NBV+LP500 (Int)"],"range":[[1.6,2.4],[5,2,1,2],[9,4],[4,3],[1,0]]},
     "legend":{"orient":"none","legendX":-55,"legendY":-99,"title":null,"symbolType":"stroke","symbolSize":2200,"symbolStrokeWidth":1.2,"symbolStrokeColor":"black","labelFontSize":12,"labelOffset":12,"clipHeight":12,"rowPadding":2.3,"padding":5,"strokeColor":"black","fillColor":"white","labelLimit":250,"labelColor":"black","labelExpr":"datum.label == 'NBV' ? ['NBV, with low-frequency', 'channels turned off (Int)'] : datum.label"}},
    "strokeWidth":{"condition":[{"test":"datum.series == 'Unprocessed'","value":2},{"test":"datum.series == 'NBV+LP500 (Int)'","value":1.4}],"value":1.1}
   }},
  {"transform":[{"filter":"isValid(datum.note)"}],
   "mark":{"type":"text","fontSize":16,"align":"center","baseline":"middle","color":"black"},
   "encoding":{"x":{"field":"hz","type":"quantitative"},"y":{"field":"db","type":"quantitative"},"text":{"field":"note"}}}
 ]}}
]
}
